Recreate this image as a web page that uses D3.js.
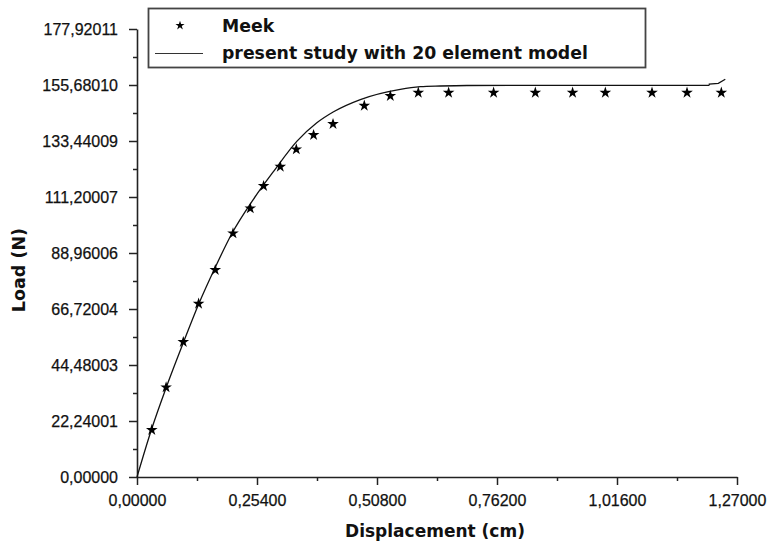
<!DOCTYPE html>
<html><head><meta charset="utf-8">
<script src="https://cdn.jsdelivr.net/npm/d3@7"></script>
<style>
body{margin:0;background:#fff;}
svg{display:block;}
</style></head><body>
<svg id="chart" width="768" height="547"></svg>
<script>
// ---- data ----
const xTicks = [0, 0.254, 0.508, 0.762, 1.016, 1.27];
const xTickLabels = ["0,00000","0,25400","0,50800","0,76200","1,01600","1,27000"];
const yTicks = [0, 22.24001, 44.48003, 66.72004, 88.96006, 111.20007, 133.44009, 155.68010, 177.92011];
const yTickLabels = ["0,00000","22,24001","44,48003","66,72004","88,96006","111,20007","133,44009","155,68010","177,92011"];

const meekX = [0.0313,0.0616,0.0980,0.1304,0.1657,0.2032,0.2398,0.2680,0.3033,0.3372,0.3738,0.4149,0.4811,0.5362,0.5954,0.6596,0.7548,0.8431,0.9220,0.9913,1.0901,1.1642,1.2368];
const meekY = [18.67,35.62,53.61,68.83,82.21,96.78,106.71,115.57,123.23,130.14,135.82,140.19,147.46,151.31,152.62,152.62,152.62,152.62,152.62,152.62,152.62,152.62,152.62];

// smooth part of FE curve
const femX = [0,0.0303,0.0620,0.0986,0.1304,0.1650,0.2000,0.2468,0.2900,0.3387,0.3800,0.4161,0.4727,0.5573,0.5997,0.6420,0.6985,1.2114];
const femY = [0,18.67,35.62,53.60,68.60,83.00,96.40,110.40,121.60,133.40,140.60,145.07,149.90,153.97,155.00,155.28,155.48,155.56];
// final step of FE curve
const femTailX = [1.2114,1.2114,1.2305,1.2452];
const femTailY = [155.56,156.07,156.35,157.94];

const seriesNames = ["Meek","present study with 20 element model"];

// ---- layout ----
const svg = d3.select("#chart");
const x = d3.scaleLinear().domain([0,1.27]).range([137,737]);
const y = d3.scaleLinear().domain([0,177.92011]).range([477,29]);
const axisColor = "#222";

const xMinor = d3.range(0, xTicks.length-1).map(i => (xTicks[i]+xTicks[i+1])/2);
const yMinor = d3.range(0, yTicks.length-1).map(i => (yTicks[i]+yTicks[i+1])/2);

// minor ticks
svg.append("g").attr("transform","translate(0,477)")
  .call(d3.axisBottom(x).tickValues(xMinor).tickSize(4).tickSizeOuter(0).tickFormat(""))
  .call(g=>g.select(".domain").remove())
  .call(g=>g.selectAll("line").attr("stroke",axisColor).attr("stroke-width",1.5));
svg.append("g").attr("transform","translate(137,0)")
  .call(d3.axisLeft(y).tickValues(yMinor).tickSize(4).tickSizeOuter(0).tickFormat(""))
  .call(g=>g.select(".domain").remove())
  .call(g=>g.selectAll("line").attr("stroke",axisColor).attr("stroke-width",1.5));

// major axes
const xAxis = svg.append("g").attr("transform","translate(0,477)")
  .call(d3.axisBottom(x).tickValues(xTicks).tickSize(8).tickSizeOuter(0).tickPadding(10)
    .tickFormat((d,i)=>xTickLabels[i]));
const yAxis = svg.append("g").attr("transform","translate(137,0)")
  .call(d3.axisLeft(y).tickValues(yTicks).tickSize(8).tickSizeOuter(0).tickPadding(11)
    .tickFormat((d,i)=>yTickLabels[i]));
[xAxis,yAxis].forEach(g=>{
  g.select(".domain").attr("stroke",axisColor).attr("stroke-width",1.6);
  g.selectAll(".tick line").attr("stroke",axisColor).attr("stroke-width",1.5);
  g.selectAll(".tick text").attr("fill","#111").attr("stroke","#111").attr("stroke-width",0.25)
    .style("font-family","'Liberation Sans', Arial, sans-serif").style("font-size","16px");
});

// axis titles
svg.append("text").attr("x",435).attr("y",537).attr("text-anchor","middle")
  .style("font-family","'DejaVu Sans', Verdana, sans-serif").style("font-weight","bold").style("font-size","17px")
  .attr("fill","#111").text("Displacement (cm)");
svg.append("text").attr("transform","translate(24.5,270) rotate(-90)").attr("text-anchor","middle")
  .style("font-family","'DejaVu Sans', Verdana, sans-serif").style("font-weight","bold").style("font-size","17.5px")
  .attr("fill","#111").text("Load (N)");

// FE line
const femData = femX.map((d,i)=>[d,femY[i]]);
svg.append("path").datum(femData)
  .attr("d", d3.line().x(d=>x(d[0])).y(d=>y(d[1])).curve(d3.curveMonotoneX))
  .attr("fill","none").attr("stroke","#111").attr("stroke-width",1.3);
svg.append("path").datum(femTailX.map((d,i)=>[d,femTailY[i]]))
  .attr("d", d3.line().x(d=>x(d[0])).y(d=>y(d[1])))
  .attr("fill","none").attr("stroke","#111").attr("stroke-width",1.3);

// Meek stars
const star = d3.symbol().type(d3.symbolStar).size(42);
svg.append("g").selectAll("path").data(meekX.map((d,i)=>[d,meekY[i]])).join("path")
  .attr("d", star)
  .attr("transform", d=>`translate(${x(d[0])},${y(d[1])})`)
  .attr("fill","#000");

// legend
const lg = svg.append("g");
lg.append("rect").attr("x",148.5).attr("y",8.5).attr("width",497).attr("height",59)
  .attr("fill","#fff").attr("stroke","#444").attr("stroke-width",1.8);
lg.append("path").attr("d", d3.symbol().type(d3.symbolStar).size(26))
  .attr("transform","translate(180,25.5)").attr("fill","#000");
lg.append("line").attr("x1",155).attr("x2",203).attr("y1",53.5).attr("y2",53.5)
  .attr("stroke","#333").attr("stroke-width",1.2);
lg.selectAll("text.lab").data(seriesNames).join("text").attr("class","lab")
  .attr("x",222).attr("y",(d,i)=>i===0?32:58.5)
  .style("font-family","'DejaVu Sans', Verdana, sans-serif").style("font-weight","bold").style("font-size","17.3px")
  .attr("fill","#111").text(d=>d);
</script>
</body></html>
